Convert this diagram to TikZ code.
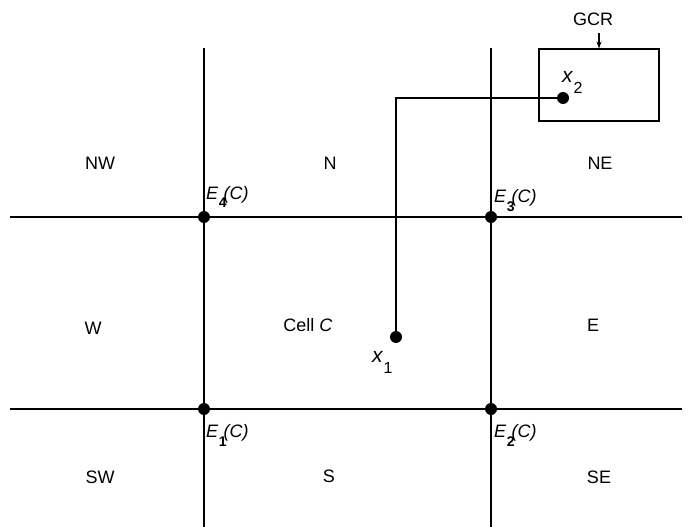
\documentclass[tikz,border=0pt]{standalone}
\usepackage{fontspec}
\setmainfont{Liberation Sans}
\usetikzlibrary{arrows.meta}
\newcommand{\corner}[1]{\textit{E}\kern0.5pt\raisebox{-9pt}{\fontsize{14}{14}\selectfont\bfseries #1}\kern-3pt\textit{(C)}}
\newcommand{\pointlbl}[1]{{\fontsize{21}{21}\selectfont\itshape x}\kern1pt\raisebox{-11pt}{\fontsize{16}{16}\selectfont #1}}
\begin{document}
\begin{tikzpicture}[x=1pt,y=-1pt,
  thinline/.style={line width=1.1pt},
  cellline/.style={line width=2.3pt},
  dotnode/.style={circle,fill=black,inner sep=0pt,minimum size=12pt},
  region/.style={font=\fontsize{18}{20}\selectfont},
  lbl/.style={font=\fontsize{18}{20}\selectfont,inner sep=0pt}]
\useasboundingbox (0,0) rectangle (689,527);
% grid coordinates
\coordinate (v1t) at (204,48);
\coordinate (v1b) at (204,527);
\coordinate (v2t) at (491,48);
\coordinate (v2b) at (491,527);
\coordinate (h1l) at (10,217);
\coordinate (h1r) at (682,217);
\coordinate (h2l) at (10,409);
\coordinate (h2r) at (682,409);
\draw[thinline] (v1t) -- (v1b);
\draw[thinline] (v2t) -- (v2b);
\draw[thinline] (h1l) -- (h1r);
\draw[thinline] (h2l) -- (h2r);
% cell
\node[dotnode] (E1) at (204,409) {};
\node[dotnode] (E2) at (491,409) {};
\node[dotnode] (E3) at (491,217) {};
\node[dotnode] (E4) at (204,217) {};
\draw[cellline] (E1.center) -- (E2.center) -- (E3.center) -- (E4.center) -- cycle;
% GCR box
\node[draw,thinline,minimum width=120pt,minimum height=72pt,inner sep=0pt] (box) at (599,85) {};
\node[lbl] (gcr) at (593,19.5) {GCR};
\coordinate (gcrtip) at (599,33);
\draw[thinline,-{Stealth[length=7pt,width=5pt]}] (gcrtip) -- (box.north -| gcrtip);
% points
\node[dotnode] (x1) at (396,337) {};
\node[dotnode] (x2) at (563,98) {};
\coordinate (bend) at (396,98);
\draw[thinline] (x1.center) -- (bend) -- (x2.center);
% point labels
\node[lbl,anchor=base west] (x1l) at (372,362) {\pointlbl{1}};
\node[lbl,anchor=base west] (x2l) at (562,83) {\pointlbl{2}};
\node[lbl,anchor=base west] (e4l) at (206,199) {\corner{4}};
\node[lbl,anchor=base west] (e3l) at (494,202) {\corner{3}};
\node[lbl,anchor=base west] (e1l) at (206,437) {\corner{1}};
\node[lbl,anchor=base west] (e2l) at (494,437) {\corner{2}};
% region labels
\node[region] (nw) at (100,163) {NW};
\node[region] (n) at (330,163) {N};
\node[region] (ne) at (600,163) {NE};
\node[region] (w) at (93,328) {W};
\node[region] (cell) at (308,325) {Cell \textit{C}};
\node[region] (e) at (593,325) {E};
\node[region] (sw) at (100,477) {SW};
\node[region] (s) at (329,476) {S};
\node[region] (se) at (599,477) {SE};
\end{tikzpicture}
\end{document}
